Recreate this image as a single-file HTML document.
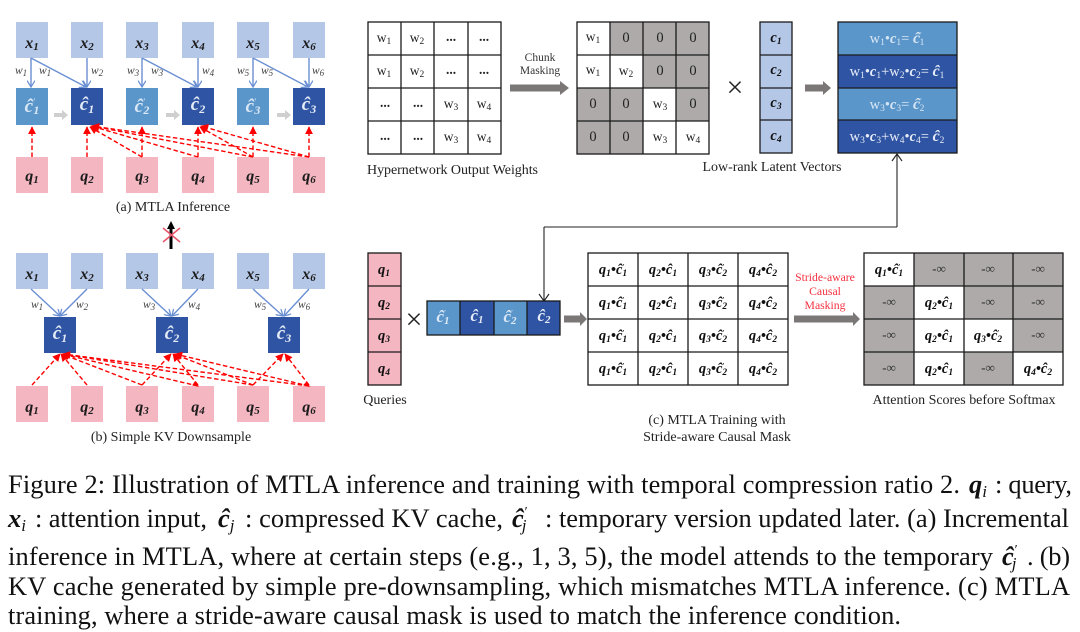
<!DOCTYPE html>
<html><head><meta charset="utf-8"><style>
html,body{margin:0;padding:0;background:#fff}
svg{display:block}
text{font-family:"Liberation Serif",serif}
.m{font-style:italic;font-weight:bold}
.w{font-style:italic;font-size:11.500px;fill:#444}
.w .s{font-size:9px}
.g{fill:none;stroke:#1a1a1a;stroke-width:1.3}
.s{font-size:9.500px}
.cap{font-size:26.400px;fill:#111}
.lab{font-size:14px;fill:#222;text-anchor:middle}
.cell{font-size:14.500px;font-style:italic;font-weight:bold;text-anchor:middle;fill:#111}
.wt{font-size:13.500px;text-anchor:middle;fill:#222}
.inf{font-size:13px;text-anchor:middle;fill:#333;font-weight:bold}
.dia{filter:blur(.3px)}
</style></head><body>
<svg width="1080" height="632" viewBox="0 0 1080 632" xmlns="http://www.w3.org/2000/svg">
<defs>
<marker id="bl" viewBox="0 0 10 10" refX="9" refY="5" markerWidth="8" markerHeight="8" markerUnits="userSpaceOnUse" orient="auto"><path d="M1 0L9 5L1 10" fill="none" stroke="#6a8fd3" stroke-width="1.6"/></marker>
<marker id="rd" viewBox="0 0 10 10" refX="9" refY="5" markerWidth="8" markerHeight="8" markerUnits="userSpaceOnUse" orient="auto"><path d="M0 0L10 5L0 10z" fill="#f00"/></marker>
</defs>
<rect width="1080" height="632" fill="#fff"/>
<g class="dia">

<!-- (a) -->
<g fill="#b4c7e7">
<rect x="16" y="22" width="32" height="36"/><rect x="71" y="22" width="32" height="36"/><rect x="126" y="22" width="32" height="36"/><rect x="182" y="22" width="32" height="36"/><rect x="237" y="22" width="32" height="36"/><rect x="293" y="22" width="32" height="36"/>
</g>
<g fill="#f4b6c1">
<rect x="16" y="157" width="32" height="36"/><rect x="71" y="157" width="32" height="36"/><rect x="126" y="157" width="32" height="36"/><rect x="182" y="157" width="32" height="36"/><rect x="237" y="157" width="32" height="36"/><rect x="293" y="157" width="32" height="36"/>
</g>
<g fill="#5b96cb"><rect x="16" y="88" width="32" height="37"/><rect x="126" y="88" width="32" height="37"/><rect x="237" y="88" width="32" height="37"/></g>
<g fill="#2f54a3"><rect x="71" y="88" width="32" height="37"/><rect x="182" y="88" width="32" height="37"/><rect x="293" y="88" width="32" height="37"/></g>
<g class="m" font-size="16" text-anchor="middle" fill="#1c1c1c">
<text x="32" y="48">x<tspan font-size="11" dy="2">1</tspan></text><text x="87" y="48">x<tspan font-size="11" dy="2">2</tspan></text><text x="142" y="48">x<tspan font-size="11" dy="2">3</tspan></text><text x="198" y="48">x<tspan font-size="11" dy="2">4</tspan></text><text x="253" y="48">x<tspan font-size="11" dy="2">5</tspan></text><text x="309" y="48">x<tspan font-size="11" dy="2">6</tspan></text>
<text x="32" y="181">q<tspan font-size="11" dy="2">1</tspan></text><text x="87" y="181">q<tspan font-size="11" dy="2">2</tspan></text><text x="142" y="181">q<tspan font-size="11" dy="2">3</tspan></text><text x="198" y="181">q<tspan font-size="11" dy="2">4</tspan></text><text x="253" y="181">q<tspan font-size="11" dy="2">5</tspan></text><text x="309" y="181">q<tspan font-size="11" dy="2">6</tspan></text>
</g>
<g class="m" font-size="19" text-anchor="middle" fill="#dbe8f5">
<text x="32" y="112">ĉ<tspan font-size="8" dy="-8">′</tspan><tspan font-size="12" dy="10" dx="-2">1</tspan></text>
<text x="142" y="112">ĉ<tspan font-size="8" dy="-8">′</tspan><tspan font-size="12" dy="10" dx="-2">2</tspan></text>
<text x="253" y="112">ĉ<tspan font-size="8" dy="-8">′</tspan><tspan font-size="12" dy="10" dx="-2">3</tspan></text>
</g>
<g class="m" font-size="19" text-anchor="middle" fill="#e6ecf7">
<text x="87" y="110">ĉ<tspan font-size="12" dy="3">1</tspan></text><text x="198" y="110">ĉ<tspan font-size="12" dy="3">2</tspan></text><text x="309" y="110">ĉ<tspan font-size="12" dy="3">3</tspan></text>
</g>
<g fill="none" stroke="#6a8fd3" stroke-width="1.4">
<path d="M31 58V87" marker-end="url(#bl)"/><path d="M31 58L86 87" marker-end="url(#bl)"/><path d="M87 58V87" marker-end="url(#bl)"/>
<path d="M142 58V87" marker-end="url(#bl)"/><path d="M142 58L197 87" marker-end="url(#bl)"/><path d="M198 58V87" marker-end="url(#bl)"/>
<path d="M253 58V87" marker-end="url(#bl)"/><path d="M253 58L308 87" marker-end="url(#bl)"/><path d="M309 58V87" marker-end="url(#bl)"/>
</g>
<g class="w">
<text x="15" y="74">w<tspan class="s" dy="2">1</tspan></text><text x="39" y="74">w<tspan class="s" dy="2">1</tspan></text><text x="91" y="74">w<tspan class="s" dy="2">2</tspan></text>
<text x="127" y="74">w<tspan class="s" dy="2">3</tspan></text><text x="151" y="74">w<tspan class="s" dy="2">3</tspan></text><text x="202" y="74">w<tspan class="s" dy="2">4</tspan></text>
<text x="237" y="74">w<tspan class="s" dy="2">5</tspan></text><text x="261" y="74">w<tspan class="s" dy="2">5</tspan></text><text x="312" y="74">w<tspan class="s" dy="2">6</tspan></text>
</g>
<g fill="#cfcfcf">
<path d="M54 113h8v-3l6 5l-6 5v-3h-8z"/><path d="M166 113h8v-3l6 5l-6 5v-3h-8z"/><path d="M277 113h8v-3l6 5l-6 5v-3h-8z"/>
</g>
<g fill="none" stroke="#f00" stroke-width="1.4" stroke-dasharray="4.500 2.500">
<path d="M32 157V127" marker-end="url(#rd)"/><path d="M87 157V127" marker-end="url(#rd)"/><path d="M142 157V127" marker-end="url(#rd)"/><path d="M198 157V127" marker-end="url(#rd)"/><path d="M253 157V127" marker-end="url(#rd)"/><path d="M309 157V127" marker-end="url(#rd)"/>
<path d="M142 157L90 127" marker-end="url(#rd)"/><path d="M198 157L91 126" marker-end="url(#rd)"/><path d="M253 157L92 126" marker-end="url(#rd)"/><path d="M309 157L92 126" marker-end="url(#rd)"/>
<path d="M253 157L200 127" marker-end="url(#rd)"/><path d="M309 157L201 126" marker-end="url(#rd)"/>
</g>
<text x="173" y="211" class="lab">(a) MTLA Inference</text>

<!-- up arrow with X -->
<path d="M171 249V228" stroke="#000" stroke-width="3"/><path d="M167 229L171 221L175 229z" fill="#000"/>
<path d="M163 228L180 242M180 228L163 242" stroke="#e8566b" stroke-width="1.6"/>

<!-- (b) -->
<g fill="#b4c7e7">
<rect x="16" y="253" width="32" height="36"/><rect x="71" y="253" width="32" height="36"/><rect x="126" y="253" width="32" height="36"/><rect x="182" y="253" width="32" height="36"/><rect x="237" y="253" width="32" height="36"/><rect x="293" y="253" width="32" height="36"/>
</g>
<g fill="#f4b6c1">
<rect x="16" y="386" width="32" height="36"/><rect x="71" y="386" width="32" height="36"/><rect x="126" y="386" width="32" height="36"/><rect x="182" y="386" width="32" height="36"/><rect x="237" y="386" width="32" height="36"/><rect x="293" y="386" width="32" height="36"/>
</g>
<g fill="#2f54a3"><rect x="44" y="317" width="32" height="36"/><rect x="156" y="317" width="32" height="36"/><rect x="268" y="317" width="32" height="36"/></g>
<g class="m" font-size="16" text-anchor="middle" fill="#1c1c1c">
<text x="32" y="279">x<tspan font-size="11" dy="2">1</tspan></text><text x="87" y="279">x<tspan font-size="11" dy="2">2</tspan></text><text x="142" y="279">x<tspan font-size="11" dy="2">3</tspan></text><text x="198" y="279">x<tspan font-size="11" dy="2">4</tspan></text><text x="253" y="279">x<tspan font-size="11" dy="2">5</tspan></text><text x="309" y="279">x<tspan font-size="11" dy="2">6</tspan></text>
<text x="32" y="412">q<tspan font-size="11" dy="2">1</tspan></text><text x="87" y="412">q<tspan font-size="11" dy="2">2</tspan></text><text x="142" y="412">q<tspan font-size="11" dy="2">3</tspan></text><text x="198" y="412">q<tspan font-size="11" dy="2">4</tspan></text><text x="253" y="412">q<tspan font-size="11" dy="2">5</tspan></text><text x="309" y="412">q<tspan font-size="11" dy="2">6</tspan></text>
</g>
<g class="m" font-size="19" text-anchor="middle" fill="#e6ecf7">
<text x="60" y="339">ĉ<tspan font-size="12" dy="3">1</tspan></text><text x="172" y="339">ĉ<tspan font-size="12" dy="3">2</tspan></text><text x="284" y="339">ĉ<tspan font-size="12" dy="3">3</tspan></text>
</g>
<g fill="none" stroke="#6a8fd3" stroke-width="1.4">
<path d="M31 289L60 316" marker-end="url(#bl)"/><path d="M87 289L60 316" marker-end="url(#bl)"/>
<path d="M142 289L171 316" marker-end="url(#bl)"/><path d="M198 289L172 316" marker-end="url(#bl)"/>
<path d="M253 289L283 316" marker-end="url(#bl)"/><path d="M309 289L284 316" marker-end="url(#bl)"/>
</g>
<g class="w">
<text x="31" y="308">w<tspan class="s" dy="2">1</tspan></text><text x="76" y="308">w<tspan class="s" dy="2">2</tspan></text>
<text x="143" y="308">w<tspan class="s" dy="2">3</tspan></text><text x="188" y="308">w<tspan class="s" dy="2">4</tspan></text>
<text x="254" y="308">w<tspan class="s" dy="2">5</tspan></text><text x="298" y="308">w<tspan class="s" dy="2">6</tspan></text>
</g>
<g fill="none" stroke="#f00" stroke-width="1.4" stroke-dasharray="4.500 2.500">
<path d="M32 385L60 354" marker-end="url(#rd)"/><path d="M87 385L61 354" marker-end="url(#rd)"/><path d="M142 385L62 354" marker-end="url(#rd)"/><path d="M198 386L62 354"/><path d="M253 385L63 354" marker-end="url(#rd)"/><path d="M309 386L63 354"/>
<path d="M142 385L171 354" marker-end="url(#rd)"/><path d="M198 385L173 354" marker-end="url(#rd)"/><path d="M253 385L174 354" marker-end="url(#rd)"/><path d="M309 386L175 354" marker-end="url(#rd)"/>
<path d="M253 385L283 354" marker-end="url(#rd)"/><path d="M309 385L285 354" marker-end="url(#rd)"/>
</g>
<path d="M195 382L198 386L193 385zM306 383L309 386L304 385z" fill="#f00" stroke="#f00"/>
<text x="171" y="441" class="lab">(b) Simple KV Downsample</text>

<!-- Hypernetwork grid -->
<rect x="368" y="22" width="133" height="132" class="g" style="fill:#fff"/>
<path class="g" d="M401 22V154M434 22V154M468 22V154M368 55H501M368 88H501M368 121H501"/>
<g class="wt">
<text x="384" y="42">w<tspan class="s" dy="2">1</tspan></text><text x="417" y="42">w<tspan class="s" dy="2">2</tspan></text><text x="451" y="41" font-weight="bold">...</text><text x="484" y="41" font-weight="bold">...</text>
<text x="384" y="75">w<tspan class="s" dy="2">1</tspan></text><text x="417" y="75">w<tspan class="s" dy="2">2</tspan></text><text x="451" y="74" font-weight="bold">...</text><text x="484" y="74" font-weight="bold">...</text>
<text x="385" y="107" font-weight="bold">...</text><text x="418" y="107" font-weight="bold">...</text><text x="451" y="108">w<tspan class="s" dy="2">3</tspan></text><text x="484" y="108">w<tspan class="s" dy="2">4</tspan></text>
<text x="385" y="140" font-weight="bold">...</text><text x="418" y="140" font-weight="bold">...</text><text x="451" y="141">w<tspan class="s" dy="2">3</tspan></text><text x="484" y="141">w<tspan class="s" dy="2">4</tspan></text>
</g>
<text x="367" y="174" font-size="14" fill="#222" textLength="171">Hypernetwork Output Weights</text>
<text x="540" y="61" font-size="11.500" fill="#333" text-anchor="middle">Chunk</text>
<text x="540" y="74" font-size="11.500" fill="#333" text-anchor="middle">Masking</text>
<path d="M510 84.500h50v-3.500l9 7l-9 7v-3.500h-50z" fill="#7b7777"/>

<!-- Masked grid -->
<rect x="577" y="22" width="132" height="132" fill="#aeaaaa"/>
<g fill="#fff"><rect x="577" y="22" width="33" height="33"/><rect x="577" y="55" width="66" height="33"/><rect x="643" y="88" width="33" height="33"/><rect x="643" y="121" width="66" height="33"/></g>
<rect x="577" y="22" width="132" height="132" class="g"/>
<path class="g" d="M610 22V154M643 22V154M676 22V154M577 55H709M577 88H709M577 121H709"/>
<g class="wt">
<text x="593" y="41">w<tspan class="s" dy="2">1</tspan></text><text x="626" y="42" font-size="14.500">0</text><text x="660" y="42" font-size="14.500">0</text><text x="693" y="42" font-size="14.500">0</text>
<text x="593" y="74">w<tspan class="s" dy="2">1</tspan></text><text x="626" y="75">w<tspan class="s" dy="2">2</tspan></text><text x="660" y="75" font-size="14.500">0</text><text x="693" y="75" font-size="14.500">0</text>
<text x="593" y="108" font-size="14.500">0</text><text x="626" y="108" font-size="14.500">0</text><text x="660" y="108">w<tspan class="s" dy="2">3</tspan></text><text x="693" y="108" font-size="14.500">0</text>
<text x="593" y="141" font-size="14.500">0</text><text x="626" y="141" font-size="14.500">0</text><text x="660" y="141">w<tspan class="s" dy="2">3</tspan></text><text x="693" y="141">w<tspan class="s" dy="2">4</tspan></text>
</g>
<text x="735" y="97" font-size="30" fill="#222" text-anchor="middle">×</text>

<!-- Latent vectors -->
<rect x="760" y="22" width="32" height="131" class="g" style="fill:#b4c7e7"/>
<path class="g" d="M760 55H792M760 88H792M760 120H792"/>
<g class="cell"><text x="776" y="42">c<tspan class="s" dy="2">1</tspan></text><text x="776" y="74">c<tspan class="s" dy="2">2</tspan></text><text x="776" y="107">c<tspan class="s" dy="2">3</tspan></text><text x="776" y="140">c<tspan class="s" dy="2">4</tspan></text></g>
<text x="772" y="171" font-size="14" fill="#222" text-anchor="middle" textLength="139">Low-rank Latent Vectors</text>
<path d="M805 84.500h18v-3.500l8 7l-8 7v-3.500h-18z" fill="#7b7777"/>

<!-- Result column -->
<rect x="838" y="22" width="119" height="33" fill="#5b96cb"/><rect x="838" y="55" width="119" height="33" fill="#2f54a3"/><rect x="838" y="88" width="119" height="32" fill="#5b96cb"/><rect x="838" y="120" width="119" height="33" fill="#2f54a3"/>
<rect x="838" y="22" width="119" height="131" class="g"/><path class="g" d="M838 55H957M838 88H957M838 120H957"/>
<g font-size="14.500" text-anchor="middle">
<text x="897" y="43" fill="#d6e5f3">w<tspan class="s" dy="2">1</tspan><tspan dy="-2">•</tspan><tspan class="m">c</tspan><tspan class="s" dy="2">1</tspan><tspan dy="-2">= </tspan><tspan class="m" font-size="16">ĉ</tspan><tspan font-size="7" dy="-6">′</tspan><tspan class="s" dy="8" dx="-2">1</tspan></text>
<text x="897" y="76" fill="#e6ecf7">w<tspan class="s" dy="2">1</tspan><tspan dy="-2">•</tspan><tspan class="m">c</tspan><tspan class="s" dy="2">1</tspan><tspan dy="-2">+w</tspan><tspan class="s" dy="2">2</tspan><tspan dy="-2">•</tspan><tspan class="m">c</tspan><tspan class="s" dy="2">2</tspan><tspan dy="-2">= </tspan><tspan class="m" font-size="16">ĉ</tspan><tspan class="s" dy="2">1</tspan></text>
<text x="897" y="109" fill="#d6e5f3">w<tspan class="s" dy="2">3</tspan><tspan dy="-2">•</tspan><tspan class="m">c</tspan><tspan class="s" dy="2">3</tspan><tspan dy="-2">= </tspan><tspan class="m" font-size="16">ĉ</tspan><tspan font-size="7" dy="-6">′</tspan><tspan class="s" dy="8" dx="-2">2</tspan></text>
<text x="897" y="141" fill="#e6ecf7">w<tspan class="s" dy="2">3</tspan><tspan dy="-2">•</tspan><tspan class="m">c</tspan><tspan class="s" dy="2">3</tspan><tspan dy="-2">+w</tspan><tspan class="s" dy="2">4</tspan><tspan dy="-2">•</tspan><tspan class="m">c</tspan><tspan class="s" dy="2">4</tspan><tspan dy="-2">= </tspan><tspan class="m" font-size="16">ĉ</tspan><tspan class="s" dy="2">2</tspan></text>
</g>

<!-- connector -->
<path d="M897 227V154M544 227H897M544 227V301" fill="none" stroke="#222" stroke-width="1.1"/>
<path d="M892 161L897 154L902 161M539 294L544 301L549 294" fill="none" stroke="#222" stroke-width="1.1"/>

<!-- Queries -->
<rect x="368" y="253" width="33" height="132" class="g" style="fill:#f4b6c1"/><path class="g" d="M368 286H401M368 319H401M368 352H401"/>
<g class="cell"><text x="384" y="274">q<tspan class="s" dy="2">1</tspan></text><text x="384" y="307">q<tspan class="s" dy="2">2</tspan></text><text x="384" y="340">q<tspan class="s" dy="2">3</tspan></text><text x="384" y="373">q<tspan class="s" dy="2">4</tspan></text></g>
<text x="385" y="404" font-size="14" fill="#222" text-anchor="middle">Queries</text>
<text x="414" y="329" font-size="30" fill="#222" text-anchor="middle">×</text>

<!-- c bar -->
<rect x="427" y="301" width="33" height="34" fill="#5b96cb"/><rect x="460" y="301" width="34" height="34" fill="#2f54a3"/><rect x="494" y="301" width="33" height="34" fill="#5b96cb"/><rect x="527" y="301" width="33" height="34" fill="#2f54a3"/>
<rect x="427" y="301" width="133" height="34" class="g"/><path class="g" d="M460 301V335M494 301V335M527 301V335"/>
<g class="m" font-size="17" text-anchor="middle">
<text x="443" y="322" fill="#dbe8f5">ĉ<tspan font-size="7" dy="-7">′</tspan><tspan font-size="11" dy="9" dx="-2">1</tspan></text>
<text x="477" y="321" fill="#e6ecf7">ĉ<tspan font-size="11" dy="2">1</tspan></text>
<text x="510" y="322" fill="#dbe8f5">ĉ<tspan font-size="7" dy="-7">′</tspan><tspan font-size="11" dy="9" dx="-2">2</tspan></text>
<text x="544" y="321" fill="#e6ecf7">ĉ<tspan font-size="11" dy="2">2</tspan></text>
</g>
<path d="M564 315.500h16v-3.500l7 7l-7 7v-3.500h-16z" fill="#7b7777"/>

<!-- Training grid -->
<rect x="588" y="253" width="200" height="132" class="g" style="fill:#fff"/>
<path class="g" d="M638 253V385M688 253V385M738 253V385M588 286H788M588 319H788M588 352H788"/>
<g class="cell">
<text x="613" y="274">q<tspan class="s" dy="2">1</tspan><tspan dy="-2">•ĉ</tspan><tspan font-size="7" dy="-5">′</tspan><tspan class="s" dy="7" dx="-2">1</tspan></text><text x="663" y="274">q<tspan class="s" dy="2">2</tspan><tspan dy="-2">•ĉ</tspan><tspan class="s" dy="2">1</tspan></text><text x="713" y="274">q<tspan class="s" dy="2">3</tspan><tspan dy="-2">•ĉ</tspan><tspan font-size="7" dy="-5">′</tspan><tspan class="s" dy="7" dx="-2">2</tspan></text><text x="763" y="274">q<tspan class="s" dy="2">4</tspan><tspan dy="-2">•ĉ</tspan><tspan class="s" dy="2">2</tspan></text>
<text x="613" y="307">q<tspan class="s" dy="2">1</tspan><tspan dy="-2">•ĉ</tspan><tspan font-size="7" dy="-5">′</tspan><tspan class="s" dy="7" dx="-2">1</tspan></text><text x="663" y="307">q<tspan class="s" dy="2">2</tspan><tspan dy="-2">•ĉ</tspan><tspan class="s" dy="2">1</tspan></text><text x="713" y="307">q<tspan class="s" dy="2">3</tspan><tspan dy="-2">•ĉ</tspan><tspan font-size="7" dy="-5">′</tspan><tspan class="s" dy="7" dx="-2">2</tspan></text><text x="763" y="307">q<tspan class="s" dy="2">4</tspan><tspan dy="-2">•ĉ</tspan><tspan class="s" dy="2">2</tspan></text>
<text x="613" y="340">q<tspan class="s" dy="2">1</tspan><tspan dy="-2">•ĉ</tspan><tspan font-size="7" dy="-5">′</tspan><tspan class="s" dy="7" dx="-2">1</tspan></text><text x="663" y="340">q<tspan class="s" dy="2">2</tspan><tspan dy="-2">•ĉ</tspan><tspan class="s" dy="2">1</tspan></text><text x="713" y="340">q<tspan class="s" dy="2">3</tspan><tspan dy="-2">•ĉ</tspan><tspan font-size="7" dy="-5">′</tspan><tspan class="s" dy="7" dx="-2">2</tspan></text><text x="763" y="340">q<tspan class="s" dy="2">4</tspan><tspan dy="-2">•ĉ</tspan><tspan class="s" dy="2">2</tspan></text>
<text x="613" y="373">q<tspan class="s" dy="2">1</tspan><tspan dy="-2">•ĉ</tspan><tspan font-size="7" dy="-5">′</tspan><tspan class="s" dy="7" dx="-2">1</tspan></text><text x="663" y="373">q<tspan class="s" dy="2">2</tspan><tspan dy="-2">•ĉ</tspan><tspan class="s" dy="2">1</tspan></text><text x="713" y="373">q<tspan class="s" dy="2">3</tspan><tspan dy="-2">•ĉ</tspan><tspan font-size="7" dy="-5">′</tspan><tspan class="s" dy="7" dx="-2">2</tspan></text><text x="763" y="373">q<tspan class="s" dy="2">4</tspan><tspan dy="-2">•ĉ</tspan><tspan class="s" dy="2">2</tspan></text>
</g>
<text x="717" y="424" class="lab">(c) MTLA Training with</text>
<text x="717" y="441" class="lab">Stride-aware Causal Mask</text>

<!-- Stride arrow -->
<g font-size="11.700" fill="#f5303f" text-anchor="middle"><text x="825" y="281">Stride-aware</text><text x="825" y="295">Causal</text><text x="825" y="309">Masking</text></g>
<path d="M794 315.500h59v-3.500l7 7l-7 7v-3.500h-59z" fill="#7b7777"/>

<!-- Attention grid -->
<rect x="864" y="253" width="199" height="132" fill="#aeaaaa"/>
<g fill="#fff"><rect x="864" y="253" width="50" height="33"/><rect x="914" y="286" width="50" height="33"/><rect x="914" y="319" width="99" height="33"/><rect x="914" y="352" width="50" height="33"/><rect x="1013" y="352" width="50" height="33"/></g>
<rect x="864" y="253" width="199" height="132" class="g"/>
<path class="g" d="M914 253V385M964 253V385M1013 253V385M864 286H1063M864 319H1063M864 352H1063"/>
<g class="cell">
<text x="889" y="274">q<tspan class="s" dy="2">1</tspan><tspan dy="-2">•ĉ</tspan><tspan font-size="7" dy="-5">′</tspan><tspan class="s" dy="7" dx="-2">1</tspan></text>
<text x="939" y="307">q<tspan class="s" dy="2">2</tspan><tspan dy="-2">•ĉ</tspan><tspan class="s" dy="2">1</tspan></text>
<text x="939" y="340">q<tspan class="s" dy="2">2</tspan><tspan dy="-2">•ĉ</tspan><tspan class="s" dy="2">1</tspan></text>
<text x="988" y="340">q<tspan class="s" dy="2">3</tspan><tspan dy="-2">•ĉ</tspan><tspan font-size="7" dy="-5">′</tspan><tspan class="s" dy="7" dx="-2">2</tspan></text>
<text x="939" y="373">q<tspan class="s" dy="2">2</tspan><tspan dy="-2">•ĉ</tspan><tspan class="s" dy="2">1</tspan></text>
<text x="1038" y="373">q<tspan class="s" dy="2">4</tspan><tspan dy="-2">•ĉ</tspan><tspan class="s" dy="2">2</tspan></text>
</g>
<g class="inf">
<text x="939" y="273">-∞</text><text x="988" y="273">-∞</text><text x="1038" y="273">-∞</text>
<text x="889" y="306">-∞</text><text x="988" y="306">-∞</text><text x="1038" y="306">-∞</text>
<text x="889" y="339">-∞</text><text x="1038" y="339">-∞</text>
<text x="889" y="372">-∞</text><text x="988" y="372">-∞</text>
</g>
<text x="964" y="404" font-size="14" fill="#222" text-anchor="middle" textLength="183">Attention Scores before Softmax</text>
</g>

<!-- Caption -->
<g class="cap">
<text x="8" y="493" textLength="952">Figure 2: Illustration of MTLA inference and training with temporal compression ratio 2.</text>
<text x="969" y="493" class="m">q<tspan font-size="17" font-weight="normal" dy="4">i</tspan></text>
<text x="995" y="493" textLength="77">: query,</text>
<text x="8" y="527" class="m">x<tspan font-size="17" font-weight="normal" dy="4">i</tspan></text>
<text x="35" y="527" textLength="172">: attention input,</text>
<text x="218" y="527" class="m">ĉ<tspan font-size="17" font-weight="normal" dy="4">j</tspan></text>
<text x="245" y="527" textLength="258">: compressed KV cache,</text>
<text x="512" y="527" class="m">ĉ<tspan font-size="14" font-weight="normal" dy="-11">′</tspan><tspan font-size="17" font-weight="normal" dy="15" dx="-5">j</tspan></text>
<text x="545" y="527" textLength="524">: temporary version updated later. (a) Incremental</text>
<text x="8" y="565" textLength="985">inference in MTLA, where at certain steps (e.g., 1, 3, 5), the model attends to the temporary</text>
<text x="1002" y="565" class="m">ĉ<tspan font-size="14" font-weight="normal" dy="-11">′</tspan><tspan font-size="17" font-weight="normal" dy="15" dx="-5">j</tspan></text>
<text x="1027" y="565" textLength="43">. (b)</text>
<text x="8" y="595" textLength="1062">KV cache generated by simple pre-downsampling, which mismatches MTLA inference. (c) MTLA</text>
<text x="8" y="624" textLength="893">training, where a stride-aware causal mask is used to match the inference condition.</text>
</g>
</svg>
</body></html>
